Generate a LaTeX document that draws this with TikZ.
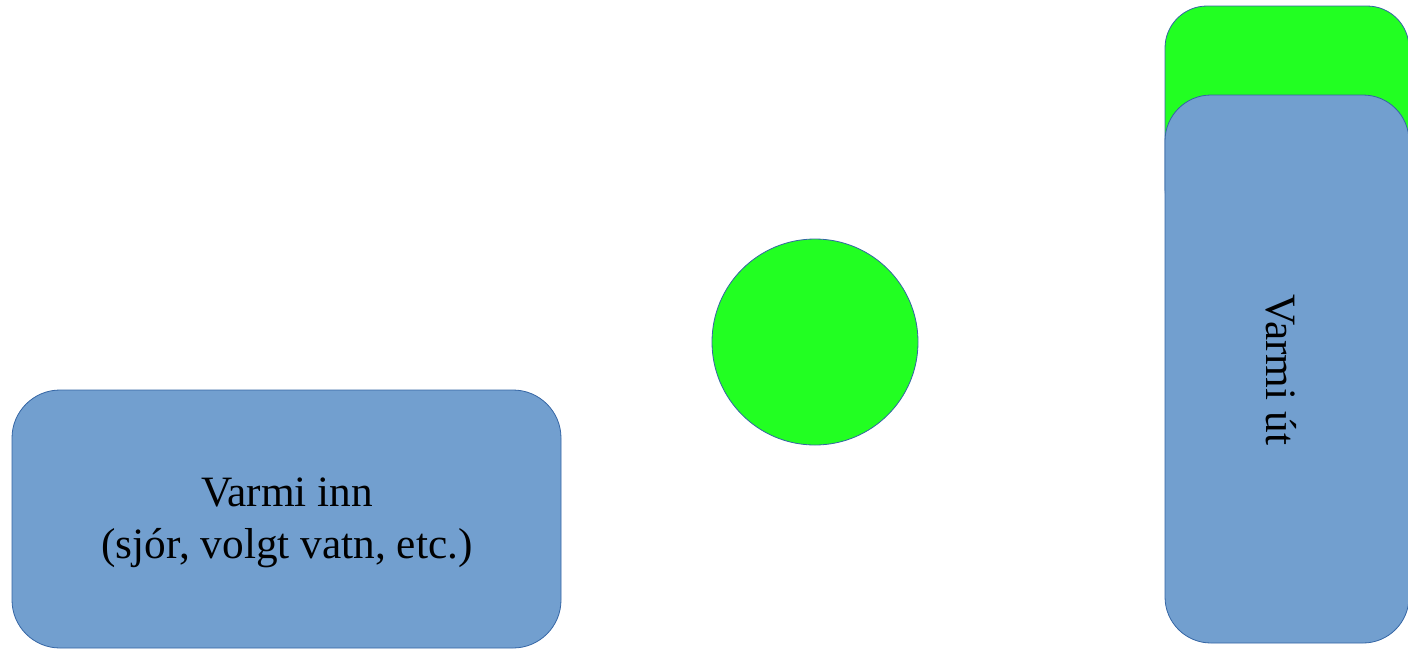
\documentclass[tikz,border=0pt]{standalone}
\usepackage{fontspec}
\setmainfont{Liberation Serif}
\definecolor{boxblue}{RGB}{114,159,207}
\definecolor{edgeblue}{RGB}{52,101,164}
\definecolor{brightgreen}{RGB}{34,255,34}
\begin{document}
\begin{tikzpicture}[x=1pt,y=-1pt,
  bluebox/.style={draw=edgeblue,fill=boxblue,line width=0.8pt},
  greenbox/.style={draw=edgeblue,fill=brightgreen,line width=0.8pt},
  lbl/.style={font=\fontsize{43.3}{52}\selectfont,align=center,text=black}]
\useasboundingbox (0,0) rectangle (1408,649);
% green box behind
\draw[greenbox,rounded corners=42pt] (1165,6) rectangle (1409,230);
% right blue box
\draw[bluebox,rounded corners=46pt] (1165,95) rectangle (1409,643);
\node[lbl,rotate=-90] (out) at (1281,370) {Varmi út};
% left blue box
\draw[bluebox,rounded corners=48pt] (12,390) rectangle (561,648);
\node[lbl] (in) at (287,523) {Varmi inn\\(sjór, volgt vatn, etc.)};
% circle
\draw[greenbox] (815,342) circle (103);
\end{tikzpicture}
\end{document}
